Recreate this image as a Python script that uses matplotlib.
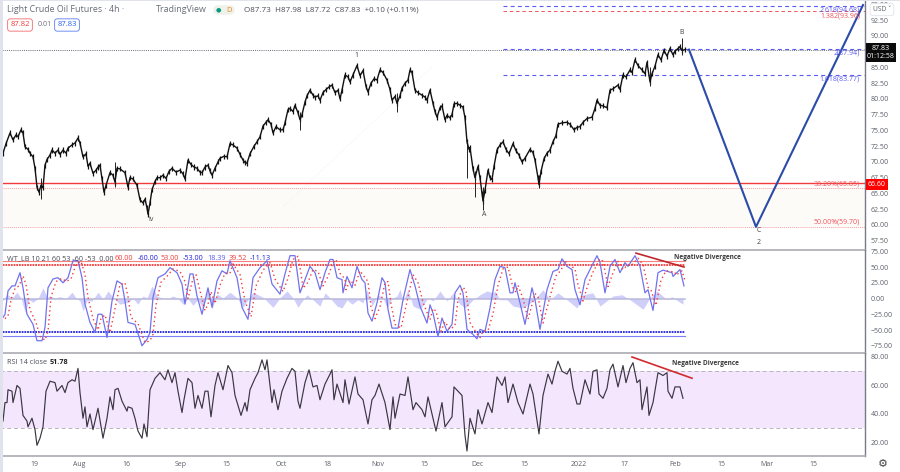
import matplotlib

matplotlib.use('Agg')
import matplotlib.pyplot as plt

plt.rcParams['font.family'] = ['Open Sans', 'DejaVu Sans']

# datos; el eje x va en barras, igual que el ancho del panel
price_bars = [3, 6, 10, 13, 16, 18, 21, 23, 25, 28, 30, 33, 35, 37, 39, 41, 43, 45, 47, 50, 52, 55, 58, 60, 63, 66, 68, 72, 75, 78,
              80, 83, 86, 88, 90, 93, 96, 98, 100, 102, 104, 106, 110, 113, 115, 117, 120, 125, 128, 130, 133, 137, 140, 143, 145, 147, 148, 150, 152, 155,
              157, 160, 163, 166, 169, 172, 176, 180, 183, 185, 188, 191, 194, 197, 200, 202, 205, 208, 210, 212, 215, 218, 220, 224, 227, 230, 233, 237, 240, 243,
              245, 247, 250, 254, 257, 260, 263, 266, 268, 271, 273, 276, 280, 283, 285, 288, 290, 293, 295, 298, 300, 302, 305, 307, 310, 313, 315, 318, 320, 323,
              326, 329, 332, 335, 338, 340, 342, 345, 348, 350, 353, 357, 360, 363, 366, 368, 371, 374, 377, 380, 383, 387, 390, 392, 395, 397, 400, 402, 405, 408,
              410, 412, 415, 418, 422, 425, 427, 430, 433, 435, 437, 440, 442, 445, 447, 450, 452, 454, 457, 460, 463, 465, 467, 469, 470, 473, 475, 478, 480, 482,
              483, 485, 488, 490, 492, 494, 497, 500, 503, 506, 509, 513, 516, 519, 522, 525, 530, 533, 535, 538, 539, 541, 544, 547, 550, 553, 556, 558, 562, 567,
              570, 574, 577, 580, 583, 587, 592, 595, 597, 600, 603, 607, 610, 613, 618, 620, 623, 626, 630, 632, 635, 638, 642, 645, 647, 650, 652, 655, 658, 661,
              664, 667, 670, 673, 675, 678, 680, 682, 685]
price_close = [71.4, 72.9, 74.6, 73.5, 74.3, 74.0, 75.1, 74.6, 72.4, 72.0, 71.4, 70.8, 69.0, 66.0, 65.2, 66.3, 65.9, 69.5, 70.4, 71.1, 71.9, 71.4, 71.9, 71.2, 71.9, 71.4, 72.2, 72.7, 73.0, 73.8,
               73.0, 70.8, 71.3, 69.3, 69.8, 68.2, 68.7, 69.2, 69.5, 67.3, 65.2, 66.3, 68.3, 67.9, 66.8, 69.0, 68.9, 68.3, 66.0, 67.5, 67.3, 66.3, 64.0, 63.5, 64.1, 62.7, 61.7, 63.5, 65.6, 66.9,
               67.5, 67.5, 67.9, 67.4, 68.5, 69.0, 68.4, 68.7, 68.1, 67.3, 70.3, 69.6, 69.2, 69.0, 68.4, 68.3, 69.2, 69.5, 68.6, 67.9, 69.0, 70.0, 70.6, 70.9, 70.8, 72.9, 72.7, 72.2, 71.2, 70.3,
               69.9, 69.8, 71.3, 72.5, 73.2, 74.0, 75.7, 76.3, 76.7, 76.0, 74.6, 75.6, 75.1, 75.1, 76.2, 78.3, 78.5, 78.0, 79.0, 77.8, 76.7, 77.5, 79.5, 80.5, 81.4, 80.6, 80.3, 80.5, 79.8, 81.0,
               81.5, 81.9, 82.2, 81.0, 81.4, 80.0, 81.4, 83.8, 83.5, 82.7, 83.8, 85.3, 83.7, 84.5, 82.0, 81.1, 82.5, 83.2, 83.0, 84.6, 84.2, 83.0, 81.5, 79.8, 80.4, 79.3, 80.5, 81.7, 82.5, 83.0,
               84.6, 84.2, 81.4, 81.0, 80.6, 80.3, 79.8, 81.4, 79.3, 78.0, 77.1, 78.6, 78.9, 76.7, 77.4, 77.0, 77.5, 79.2, 79.3, 79.0, 78.7, 77.0, 73.2, 72.0, 72.3, 68.9, 67.5, 69.3, 67.5, 65.0,
               63.8, 65.5, 68.7, 67.5, 67.2, 69.3, 71.9, 72.7, 73.2, 72.0, 71.3, 72.9, 71.8, 71.1, 70.0, 70.6, 72.0, 71.5, 70.3, 67.5, 66.4, 68.5, 70.5, 71.4, 71.9, 73.2, 74.2, 76.0, 76.2, 76.3,
               76.0, 75.1, 75.5, 75.6, 76.3, 76.9, 77.1, 78.5, 79.8, 79.0, 78.9, 78.6, 81.4, 81.6, 82.2, 81.5, 83.8, 83.5, 84.6, 84.2, 86.2, 85.3, 84.6, 84.0, 85.8, 82.7, 84.0, 85.2, 87.0, 86.2,
               87.7, 86.8, 88.0, 87.0, 87.6, 88.0, 88.3, 87.7, 87.83]
wick_bars = [41, 115, 300, 397, 467, 475, 483, 539, 650, 682]
wick_low = [64.2, 66.0, 75.0, 78.0, 67.5, 64.4, 62.3, 65.9, 82.0, 87.0]
wick_high = [67.5, 70.0, 78.0, 81.0, 73.0, 68.5, 66.0, 68.0, 85.0, 89.7]

wave_bars = [689, 756, 863]
wave_prices = [87.83, 59.7, 94.9]
wave_names = ['1', 'A', 'B', 'iv', 'C', '2']
wave_name_bars = [356, 484, 682, 151, 759, 759]
wave_name_prices = [86.9, 61.6, 90.6, 60.8, 59.2, 57.2]
fib_blue = [94.68, 87.94, 83.77]
fib_blue_names = ['2.618(94.68)', '2(87.94)', '1.618(83.77)']
fib_red = [65.85, 59.70]
fib_red_names = ['38.20%(65.85)', '50.00%(59.70)']
ext_red = 93.96
ext_red_name = '1.382(93.96)'
last_price = 87.83
support = 66.60
price_ticks = [57.5, 60, 62.5, 65, 67.5, 70, 72.5, 75, 77.5, 80, 82.5, 85, 90, 92.5, 95]

wt_bars = [3, 5, 8, 12, 15, 20, 23, 27, 33, 37, 42, 45, 48, 53, 58, 63, 68, 73, 78, 82, 85, 90, 95, 98, 102, 107, 112, 117, 122, 125,
           128, 135, 142, 147, 150, 153, 158, 165, 170, 177, 182, 185, 190, 193, 197, 202, 205, 208, 212, 217, 222, 227, 230, 237, 242, 248, 253, 260, 267, 272,
           280, 285, 290, 295, 298, 300, 305, 310, 315, 320, 325, 330, 333, 337, 342, 343, 347, 352, 357, 362, 365, 368, 372, 377, 382, 385, 388, 392, 398, 403,
           410, 415, 420, 427, 430, 433, 438, 442, 447, 452, 455, 460, 463, 467, 473, 477, 480, 485, 490, 495, 500, 505, 510, 513, 515, 520, 525, 532, 535, 540,
           547, 553, 558, 562, 567, 572, 575, 580, 585, 590, 597, 600, 605, 610, 615, 620, 625, 628, 635, 640, 645, 648, 653, 658, 663, 672, 673, 680, 684]
wt_fast = [-30, -25, 12, 20, 20, 41, 17, -25, -41, -67, -67, -46, 17, 31, 33, 25, 33, 60, 60, 33, -9, -38, -54, -25, -25, -62, -4, 28, 23, -4,
           -38, -41, -75, -65, -54, 2, 33, 39, 49, 41, 23, -9, 39, 39, 4, -25, -4, 17, -14, 28, 44, 39, 60, 33, -14, -33, 33, 49, 60, 23,
           7, 39, 68, 68, 33, 9, 30, 51, 41, 14, 41, 62, 62, 33, 30, 9, 35, 17, 51, 30, 25, -23, -36, -7, 33, 25, -17, -47, -47, -2,
           46, 20, -12, -39, -10, -23, -60, -31, -52, -41, 9, 21, 9, -49, -57, -64, -49, -52, -15, 30, 51, 49, 9, 9, 25, -7, -41, 17, -2, -49,
           14, 43, 46, 63, 51, 46, 14, -10, 30, 46, 68, 57, 9, 51, 62, 41, 57, 51, 68, 51, 9, 14, -19, 41, 45, 41, 35, 46, 20]
wt_slow_bars = [5, 8, 11, 15, 19, 23, 26, 30, 36, 40, 45, 48, 51, 56, 62, 66, 71, 76, 81, 85, 88, 93, 98, 101, 105, 110, 115, 120, 125, 128,
                131, 138, 145, 150, 153, 156, 161, 168, 173, 180, 185, 188, 193, 196, 200, 205, 208, 211, 215, 220, 225, 230, 233, 240, 245, 251, 256, 263, 270, 275,
                283, 288, 293, 298, 301, 303, 308, 313, 318, 323, 328, 333, 336, 340, 345, 346, 350, 355, 360, 365, 368, 371, 375, 380, 385, 388, 391, 395, 401, 406,
                413, 418, 423, 430, 433, 436, 441, 445, 450, 455, 458, 463, 466, 470, 476, 480, 483, 488, 493, 498, 503, 508, 513, 516, 518, 523, 528, 535, 538, 543,
                550, 556, 561, 565, 570, 575, 578, 583, 588, 593, 600, 603, 608, 613, 618, 623, 628, 631, 638, 643, 648, 651, 656, 661, 666, 675, 676, 682, 685]
wt_slow = [-32, -28, -2, 16, 20, 36, 22, -18, -38, -60, -66, -52, 2, 27, 32, 27, 31, 54, 59, 38, 2, -32, -50, -32, -26, -54, -16, 22, 25, 3,
           -30, -40, -70, -67, -57, -10, 26, 37, 47, 43, 27, 0, 32, 38, 12, -19, -9, 11, -8, 21, 40, 40, 55, 38, -4, -29, 20, 45, 57, 31,
           11, 32, 62, 67, 40, 16, 26, 46, 43, 20, 35, 57, 62, 40, 31, 14, 29, 21, 44, 33, 27, -13, -32, -13, 25, 27, -8, -41, -47, -12,
           38, 25, -6, -34, -16, -20, -52, -37, -49, -43, -2, 18, 12, -38, -54, -62, -52, -51, -24, 21, 47, 50, 17, 10, 21, 0, -33, 8, 3, -39,
           3, 36, 45, 59, 53, 47, 22, -4, 22, 42, 63, 59, 19, 41, 59, 46, 54, 52, 64, 54, 18, 13, -11, 29, 44, 42, 37, 44, 28]
hist_bars = [2, 7, 12, 17, 21, 25, 29, 33, 38, 43, 47, 50, 55, 60, 66, 72, 76, 80, 83, 87, 92, 98, 103, 108, 113, 120, 128, 133, 138, 143,
             147, 152, 157, 162, 167, 173, 178, 183, 188, 193, 198, 203, 208, 212, 217, 223, 230, 237, 243, 248, 253, 263, 273, 280, 287, 293, 298, 300, 307, 313,
             320, 325, 330, 337, 342, 347, 352, 358, 363, 367, 372, 378, 383, 387, 392, 397, 400, 403, 408, 413, 420, 428, 433, 440, 447, 453, 460, 465, 473, 480,
             487, 493, 495, 500, 507, 513, 523, 533, 543, 550, 558, 567, 577, 583, 593, 600, 613, 622, 630, 643, 650, 657, 667, 672, 677, 683]
hist_vals = [-5, 7, 1, 10, 1, -22, -2, -6, 0, 17, 2, 4, 1, 3, 0, 10, 1, -4, -20, -3, -4, 10, -1, 12, 2, -9, -6, 0, -9, 4,
             1, 20, 4, 1, -1, 4, 0, -9, 0, -11, -1, -17, 17, -17, 7, 1, 10, 1, -14, -2, 10, 2, -14, 1, 12, 1, -14, -9, 6, -2,
             -12, 9, 1, -12, -15, -2, -9, -2, -7, 14, -12, 6, 1, -15, 0, 4, 15, -4, 14, -12, -17, 1, -4, 12, -4, 9, -9, -15, -2, 6,
             12, 9, 12, -2, -2, -12, -15, -4, 14, -2, 9, -2, -15, 6, 9, -12, 4, 6, -2, -17, 1, 12, -2, 3, -3, -9]
wt_levels = [60, 53, -53, -60]
wt_legend_vals = ['60.00', '-60.00', '53.00', '-53.00', '18.39', '39.52', '-11.13']
wt_ticks = [-75, -50, -25, 0, 25, 50, 75]
wt_div_bars = [636, 684]
wt_div_vals = [72, 50]

rsi_bars = [3, 5, 7, 8, 12, 13, 17, 20, 23, 27, 28, 32, 35, 37, 40, 43, 46, 50, 55, 57, 62, 65, 68, 72, 75, 78, 80, 83, 85, 87,
            90, 93, 98, 103, 107, 110, 113, 115, 118, 122, 127, 128, 132, 135, 138, 142, 144, 147, 150, 155, 160, 165, 168, 172, 175, 178, 182, 184, 188, 192,
            195, 198, 202, 205, 208, 211, 215, 218, 223, 228, 232, 235, 241, 245, 247, 250, 255, 258, 262, 265, 267, 272, 274, 278, 282, 287, 292, 295, 298, 300,
            305, 309, 313, 317, 320, 325, 330, 332, 334, 337, 343, 345, 349, 355, 358, 363, 368, 372, 375, 379, 385, 390, 393, 395, 400, 405, 408, 413, 416, 422,
            425, 428, 433, 436, 442, 445, 452, 454, 462, 465, 467, 470, 475, 478, 482, 488, 492, 497, 502, 505, 508, 513, 518, 523, 530, 533, 539, 543, 548, 552,
            555, 558, 562, 567, 570, 573, 577, 580, 585, 590, 593, 597, 599, 603, 607, 610, 613, 618, 623, 626, 630, 633, 637, 640, 642, 647, 649, 653, 658, 663,
            667, 668, 672, 675, 680, 683]
rsi_vals = [35, 48, 48, 57, 56, 48, 60, 58, 39, 35, 31, 37, 29, 18, 23, 31, 56, 63, 62, 56, 60, 55, 62, 64, 63, 72, 55, 37, 45, 31,
            40, 29, 44, 23, 37, 52, 43, 57, 58, 49, 42, 45, 44, 37, 28, 23, 33, 24, 57, 65, 69, 64, 71, 62, 69, 56, 41, 50, 65, 62,
            44, 53, 44, 56, 56, 38, 60, 69, 57, 74, 69, 53, 39, 48, 42, 57, 65, 69, 78, 71, 78, 48, 57, 43, 56, 65, 72, 70, 49, 44,
            62, 71, 59, 60, 50, 61, 68, 71, 50, 61, 48, 64, 47, 66, 54, 50, 33, 50, 53, 61, 48, 29, 52, 37, 54, 53, 66, 43, 48, 43,
            38, 52, 37, 28, 48, 31, 38, 59, 53, 25, 14, 37, 26, 43, 33, 48, 41, 66, 60, 66, 48, 61, 48, 40, 61, 54, 26, 53, 68, 61,
            70, 77, 70, 68, 72, 58, 47, 47, 64, 54, 70, 71, 54, 51, 58, 71, 75, 59, 74, 62, 72, 76, 62, 64, 43, 59, 39, 48, 69, 67,
            69, 56, 51, 59, 59, 51]
rsi_levels = [70, 30]
rsi_ticks = [20, 40, 60, 80]
rsi_div_bars = [632, 692]
rsi_div_vals = [80, 65.1]

time_pos = [34, 79, 126, 181, 226, 281, 327, 378, 424, 477, 524, 579, 624, 675, 721, 767, 813]
time_labels = ['19', 'Aug', '16', 'Sep', '15', 'Oct', '18', 'Nov', '15', 'Dec', '15', '2022', '17', 'Feb', '15', 'Mar', '15']

AZUL_FIB = '#5b5bf0'
ROJO_FIB = '#f0525a'


def panel(fig, top, bottom):
    # paneles colocados por pixel sobre la captura de 900x472
    ax = fig.add_axes([0, 1 - bottom / 472, 865 / 900, (bottom - top) / 472])
    ax.set_xlim(0, 865)
    ax.yaxis.tick_right()
    ax.tick_params(axis='y', length=0, labelsize=5.0, labelcolor='#5d606b', pad=4.3)
    ax.tick_params(axis='x', length=0, labelbottom=False)
    for lado in ['left', 'top']:
        ax.spines[lado].set_visible(False)
    ax.spines['right'].set_color('#787b86')
    ax.spines['right'].set_linewidth(1.0)
    ax.spines['bottom'].set_color('#a9abb3')
    ax.spines['bottom'].set_linewidth(1.2)
    ax.patch.set_alpha(0)
    return ax


def caja(fig, x0, y0, x1, y1, color):
    fig.patches.append(plt.Rectangle((x0 / 900, 1 - y1 / 472), (x1 - x0) / 900, (y1 - y0) / 472,
                                     transform=fig.transFigure, color=color, lw=0))


fig = plt.figure(figsize=(9, 4.72), dpi=100)
caja(fig, 0, 0, 2.5, 472, '#e0e3eb')
caja(fig, 0, 0, 900, 1, '#e0e3eb')

# panel de precio
ax = panel(fig, 0, 250)
ax.set_ylim(56.03, 95.7)
ax.set_yticks(price_ticks, [f'{t:.2f}' for t in price_ticks])
ax.plot([283, 432], [62.9, 85.1], color='#f1f1f1', lw=0.7, ls=':')
ax.fill_between([0, 865], fib_red[1], fib_red[0], color='#fdfbf8', lw=0)
ax.axhline(last_price, color='#6a6d78', lw=0.7, ls=(0, (1, 1.2)))
ax.axhline(support, color='#f23b3b', lw=1.0)
for nivel, nombre in zip(fib_red, fib_red_names):
    ax.axhline(nivel, color='#f5a0a3', lw=0.7, ls=(0, (1, 1)))
    ax.text(860, nivel + 0.15, nombre, color=ROJO_FIB, fontsize=5, ha='right', va='bottom')
for nivel, nombre in zip(fib_blue, fib_blue_names):
    ax.plot([503, 865], [nivel, nivel], color=AZUL_FIB, lw=0.8, ls=(0, (3.5, 3)))
    ax.text(860, nivel - 0.05, nombre, color=AZUL_FIB, fontsize=5, ha='right', va='top')
ax.plot([503, 865], [ext_red, ext_red], color=ROJO_FIB, lw=0.7, ls=(0, (3.5, 3)))
ax.text(860, ext_red - 0.2, ext_red_name, color=ROJO_FIB, fontsize=5, ha='right', va='top')
ax.vlines(price_bars, [p - 0.4 for p in price_close], [p + 0.4 for p in price_close], color='#111111', lw=0.9)
ax.vlines(wick_bars, wick_low, wick_high, color='#222222', lw=0.7)
ax.plot(price_bars, price_close, color='#111111', lw=1.0)
ax.plot(wave_bars, wave_prices, color='#2a4ba8', lw=1.5)
for nombre, xb, yb in zip(wave_names, wave_name_bars, wave_name_prices):
    ax.text(xb, yb, nombre, color='#444444', fontsize=5, ha='center', va='center')

# panel WT_LB
ax2 = panel(fig, 250, 353)
ax2.set_ylim(-86.5, 77)
ax2.set_yticks(wt_ticks, [f'{t:.2f}'.replace('-', '\u2212') for t in wt_ticks])
ax2.fill_between(hist_bars, 0, hist_vals, color='#cfcffa', lw=0)
ax2.plot([0, 685], [0, 0], color='#b9b9dc', lw=1.1)
ax2.plot([0, 685], [wt_levels[0]] * 2, color='#f77f7f', lw=0.8)
ax2.plot([0, 685], [wt_levels[1]] * 2, color='#f23b3b', lw=1.3, ls=(0, (1, 0.5)))
ax2.plot([0, 685], [wt_levels[2]] * 2, color='#2222dd', lw=1.3, ls=(0, (1, 0.5)))
ax2.plot([0, 685], [wt_levels[3]] * 2, color='#7f7ff7', lw=0.8)
ax2.plot(wt_bars, wt_fast, color='#7272ee', lw=0.9)
ax2.plot(wt_slow_bars, wt_slow, color='#f23b3b', lw=1.0, ls=(0, (1, 2.2)))
ax2.plot(wt_div_bars, wt_div_vals, color='#c0272d', lw=1.2)
ax2.text(674, 65, 'Negative Divergence', fontsize=4.7, fontweight='bold', color='#3a3a3a', va='center')

# panel RSI
ax3 = panel(fig, 353, 456)
ax3.set_ylim(10.5, 82.8)
ax3.set_yticks(rsi_ticks, [f'{t:.2f}' for t in rsi_ticks])
ax3.fill_between([0, 865], rsi_levels[1], rsi_levels[0], color='#f3e6fd', lw=0)
for nivel in rsi_levels:
    ax3.axhline(nivel, color='#b8b4bf', lw=0.7, ls=(0, (4, 3)))
ax3.plot(rsi_bars, rsi_vals, color='#3b3642', lw=0.85)
ax3.plot(rsi_div_bars, rsi_div_vals, color='#d12b2f', lw=1.2)
ax3.text(672, 75.5, 'Negative Divergence', fontsize=4.7, fontweight='bold', color='#3a3a3a', va='center')
ax3.set_xticks(time_pos, time_labels)
ax3.tick_params(axis='x', labelbottom=True, labelsize=5.0, labelcolor='#5d606b', pad=3.5)


def px(x, y, texto, **kw):
    fig.text(x / 900, 1 - y / 472, texto, va='center', **kw)


# cabecera
px(7, 10, 'Light Crude Oil Futures \u00b7 4h \u00b7', fontsize=6.4, color='#6a6d78')
px(156, 10, 'TradingView', fontsize=6.4, color='#6a6d78')
fig.text(224 / 900, 1 - 10 / 472, '         ', fontsize=6, va='center', ha='center',
         bbox=dict(boxstyle='round,pad=0.15,rounding_size=0.6', fc='#eef2ea', ec='none'))
px(216, 9.5, '\u25cf', fontsize=4.5, color='#089981')
px(226, 10, 'D', fontsize=5.5, color='#e8891c')
px(244, 10, 'O87.73  H87.98  L87.72  C87.83  +0.10 (+0.11%)', fontsize=5.8, color='#4a4d58')
fig.text(20 / 900, 1 - 25 / 472, '87.82', fontsize=5.5, color='#f23b3b', ha='center', va='center',
         bbox=dict(boxstyle='round,pad=0.35', fc='white', ec='#f77f7f', lw=0.7))
px(38, 25, '0.01', fontsize=5, color='#6a6d78')
fig.text(67 / 900, 1 - 25 / 472, '87.83', fontsize=5.5, color='#2962ff', ha='center', va='center',
         bbox=dict(boxstyle='round,pad=0.35', fc='white', ec='#6f8ff7', lw=0.7))
px(7, 259, 'WT_LB 10 21 60 53 -60 -53  0.00', fontsize=5.2, color='#4a4d58')
val_x = [115, 138, 161, 183, 207, 229, 250]
val_c = ['#f23b3b', '#2222dd', '#f23b3b', '#2222dd', '#5b5bf0', '#f23b3b', '#2222dd']
for xv, sv, cv in zip(val_x, wt_legend_vals, val_c):
    px(xv, 259, sv, fontsize=5.2, color=cv)
px(7, 363, 'RSI 14 close', fontsize=5.2, color='#4a4d58')
px(50, 363, '51.78', fontsize=5.2, color='#222222', fontweight='bold')

# etiquetas del eje de precios
caja(fig, 866, 43, 896, 62, '#0b0b0b')
caja(fig, 866, 179, 888, 190, '#ff0000')
fig.text(881 / 900, 1 - 52.5 / 472, '87.83\n01:12:58', fontsize=5, color='white', ha='center', va='center',
         linespacing=1.25)
fig.text(877 / 900, 1 - 184.5 / 472, '66.60', fontsize=5, color='white', ha='center', va='center')
fig.text(882 / 900, 1 - 9.5 / 472, 'USD \u02c5', fontsize=4.8, color='#5d606b', ha='center', va='center',
         bbox=dict(boxstyle='round,pad=0.4', fc='white', ec='#e0e3eb', lw=0.6))
fig.text(883 / 900, 1 - 464 / 472, '\u2699', fontsize=8, color='#444444', ha='center', va='center',
         family=['DejaVu Sans'])

fig.savefig('out.png', dpi=100)
plt.close(fig)
